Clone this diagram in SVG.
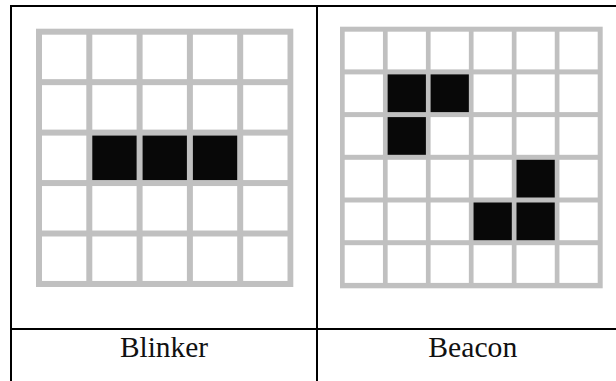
<svg xmlns="http://www.w3.org/2000/svg" width="616" height="381" viewBox="0 0 616 381">
  <style>
    .grid { fill: #c0c0c0; }
    .cell { fill: #ffffff; }
    .on { fill: #080808; }
    .rule { stroke: #000000; stroke-width: 2; fill: none; }
    .label { font-family: "Liberation Serif", "Times New Roman", serif; font-size: 29px; fill: #111111; text-anchor: middle; }
  </style>
  <rect x="0" y="0" width="616" height="381" fill="#ffffff"/>
  <g id="table">
    <line class="rule" x1="10" y1="6" x2="616" y2="6"/>
    <line class="rule" x1="11" y1="5" x2="11" y2="381"/>
    <line class="rule" x1="317" y1="5" x2="317" y2="381"/>
    <line class="rule" x1="10" y1="329" x2="616" y2="329"/>
  </g>
  <g id="blinker">
    <rect class="grid" x="36" y="28.7" width="257.3" height="258.3"/>
    <g>
      <rect class="cell" x="42" y="34.7" width="44.3" height="44.45"/>
      <rect class="cell" x="92.3" y="34.7" width="44.3" height="44.45"/>
      <rect class="cell" x="142.6" y="34.7" width="44.3" height="44.45"/>
      <rect class="cell" x="192.9" y="34.7" width="44.3" height="44.45"/>
      <rect class="cell" x="243.2" y="34.7" width="44.3" height="44.45"/>
      <rect class="cell" x="42" y="85.15" width="44.3" height="44.45"/>
      <rect class="cell" x="92.3" y="85.15" width="44.3" height="44.45"/>
      <rect class="cell" x="142.6" y="85.15" width="44.3" height="44.45"/>
      <rect class="cell" x="192.9" y="85.15" width="44.3" height="44.45"/>
      <rect class="cell" x="243.2" y="85.15" width="44.3" height="44.45"/>
      <rect class="cell" x="42" y="135.6" width="44.3" height="44.45"/>
      <rect class="on" x="92.3" y="135.6" width="44.3" height="44.45"/>
      <rect class="on" x="142.6" y="135.6" width="44.3" height="44.45"/>
      <rect class="on" x="192.9" y="135.6" width="44.3" height="44.45"/>
      <rect class="cell" x="243.2" y="135.6" width="44.3" height="44.45"/>
      <rect class="cell" x="42" y="186.05" width="44.3" height="44.45"/>
      <rect class="cell" x="92.3" y="186.05" width="44.3" height="44.45"/>
      <rect class="cell" x="142.6" y="186.05" width="44.3" height="44.45"/>
      <rect class="cell" x="192.9" y="186.05" width="44.3" height="44.45"/>
      <rect class="cell" x="243.2" y="186.05" width="44.3" height="44.45"/>
      <rect class="cell" x="42" y="236.5" width="44.3" height="44.45"/>
      <rect class="cell" x="92.3" y="236.5" width="44.3" height="44.45"/>
      <rect class="cell" x="142.6" y="236.5" width="44.3" height="44.45"/>
      <rect class="cell" x="192.9" y="236.5" width="44.3" height="44.45"/>
      <rect class="cell" x="243.2" y="236.5" width="44.3" height="44.45"/>
    </g>
    <text class="label" x="164" y="356.7" textLength="88" lengthAdjust="spacingAndGlyphs">Blinker</text>
  </g>
  <g id="beacon">
    <rect class="grid" x="340" y="26.7" width="262.7" height="261.6"/>
    <g>
      <rect class="cell" x="344.7" y="31.7" width="38.25" height="37.7"/>
      <rect class="cell" x="387.65" y="31.7" width="38.25" height="37.7"/>
      <rect class="cell" x="430.6" y="31.7" width="38.25" height="37.7"/>
      <rect class="cell" x="473.55" y="31.7" width="38.25" height="37.7"/>
      <rect class="cell" x="516.5" y="31.7" width="38.25" height="37.7"/>
      <rect class="cell" x="559.45" y="31.7" width="38.25" height="37.7"/>
      <rect class="cell" x="344.7" y="74.4" width="38.25" height="37.7"/>
      <rect class="on" x="387.65" y="74.4" width="38.25" height="37.7"/>
      <rect class="on" x="430.6" y="74.4" width="38.25" height="37.7"/>
      <rect class="cell" x="473.55" y="74.4" width="38.25" height="37.7"/>
      <rect class="cell" x="516.5" y="74.4" width="38.25" height="37.7"/>
      <rect class="cell" x="559.45" y="74.4" width="38.25" height="37.7"/>
      <rect class="cell" x="344.7" y="117.1" width="38.25" height="37.7"/>
      <rect class="on" x="387.65" y="117.1" width="38.25" height="37.7"/>
      <rect class="cell" x="430.6" y="117.1" width="38.25" height="37.7"/>
      <rect class="cell" x="473.55" y="117.1" width="38.25" height="37.7"/>
      <rect class="cell" x="516.5" y="117.1" width="38.25" height="37.7"/>
      <rect class="cell" x="559.45" y="117.1" width="38.25" height="37.7"/>
      <rect class="cell" x="344.7" y="159.8" width="38.25" height="37.7"/>
      <rect class="cell" x="387.65" y="159.8" width="38.25" height="37.7"/>
      <rect class="cell" x="430.6" y="159.8" width="38.25" height="37.7"/>
      <rect class="cell" x="473.55" y="159.8" width="38.25" height="37.7"/>
      <rect class="on" x="516.5" y="159.8" width="38.25" height="37.7"/>
      <rect class="cell" x="559.45" y="159.8" width="38.25" height="37.7"/>
      <rect class="cell" x="344.7" y="202.5" width="38.25" height="37.7"/>
      <rect class="cell" x="387.65" y="202.5" width="38.25" height="37.7"/>
      <rect class="cell" x="430.6" y="202.5" width="38.25" height="37.7"/>
      <rect class="on" x="473.55" y="202.5" width="38.25" height="37.7"/>
      <rect class="on" x="516.5" y="202.5" width="38.25" height="37.7"/>
      <rect class="cell" x="559.45" y="202.5" width="38.25" height="37.7"/>
      <rect class="cell" x="344.7" y="245.2" width="38.25" height="37.7"/>
      <rect class="cell" x="387.65" y="245.2" width="38.25" height="37.7"/>
      <rect class="cell" x="430.6" y="245.2" width="38.25" height="37.7"/>
      <rect class="cell" x="473.55" y="245.2" width="38.25" height="37.7"/>
      <rect class="cell" x="516.5" y="245.2" width="38.25" height="37.7"/>
      <rect class="cell" x="559.45" y="245.2" width="38.25" height="37.7"/>
    </g>
    <text class="label" x="472.8" y="356.7" textLength="89" lengthAdjust="spacingAndGlyphs">Beacon</text>
  </g>
</svg>
